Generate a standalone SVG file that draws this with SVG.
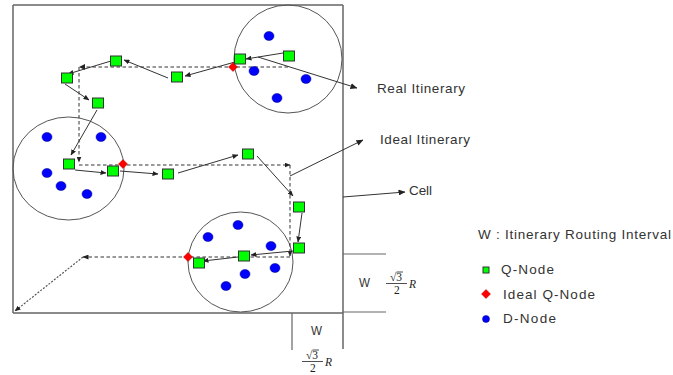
<svg xmlns="http://www.w3.org/2000/svg" width="673" height="375" viewBox="0 0 673 375">
<defs>
<marker id="ah" markerUnits="userSpaceOnUse" markerWidth="7" markerHeight="6" refX="6.5" refY="3" orient="auto">
<path d="M0,0 L7,3 L0,6 z" fill="#222"/>
</marker>
<marker id="ahs" markerUnits="userSpaceOnUse" markerWidth="6" markerHeight="5" refX="5.5" refY="2.5" orient="auto">
<path d="M0,0 L6,2.5 L0,5 z" fill="#222"/>
</marker>
</defs>
<style>
.frame{stroke:#666;stroke-width:1.5;fill:none}
.cell{stroke:#555;stroke-width:1;fill:none}
.q{fill:#00ff00;stroke:#333;stroke-width:1}
.iq{fill:#ff0000;stroke:#aa0000;stroke-width:0.5}
.d{fill:#0000ff;stroke:#000080;stroke-width:0.5}
.real{stroke:#333;stroke-width:1;fill:none;marker-end:url(#ahs)}
.ideal{stroke:#333;stroke-width:1;fill:none;stroke-dasharray:3.5,2.5}
.dot{stroke:#555;stroke-width:1.2;fill:none;stroke-dasharray:2,1.5}
.call{stroke:#333;stroke-width:1;fill:none;marker-end:url(#ah)}
.t{font-family:"Liberation Sans",Arial,sans-serif;font-size:13.5px;fill:#333}
.m{font-family:"Liberation Serif","Times New Roman",serif;font-size:11.5px;fill:#222}
.bar{stroke:#222;stroke-width:0.8}
</style>
<rect width="673" height="375" fill="#fff"/>

<g id="frame">
<path class="frame" d="M13,5 L343,5 M13,5 L13,313 M13,313 L343,313 M343,5 L343,349"/>
<path class="frame" d="M343,254 L386,254 M343,312 L386,312 M292,313 L292,350" style="stroke-width:1.2"/>
</g>

<g id="cells">
<circle class="cell" cx="288" cy="59" r="54"/>
<ellipse class="cell" cx="68.5" cy="168.5" rx="55.5" ry="51.5"/>
<ellipse class="cell" cx="240.5" cy="262" rx="52.5" ry="50"/>
</g>

<g id="connectors">
<g id="ideal-itinerary">
<path class="ideal" d="M288,67 L81,67"/>
<path d="M79,67 L85,64 L85,70 z" fill="#222"/>
<path class="ideal" d="M79,67 L79,162" marker-end="url(#ahs)"/>
<path class="ideal" d="M79,165 L290,165" marker-end="url(#ahs)"/>
<path class="ideal" d="M290,165 L290,256" marker-end="url(#ahs)"/>
<path class="ideal" d="M290,257 L83,257" marker-end="url(#ahs)"/>
<path class="dot" d="M83,257 L15,311" marker-end="url(#ahs)"/>
</g>
<g id="real-itinerary">
<path class="real" d="M283,53 L246,59"/>
<path class="real" d="M235,62 L185,76"/>
<path class="real" d="M168,78 L124,60"/>
<path class="real" d="M111,61 L68,74"/>
<path class="real" d="M65,84 L89,100"/>
<path class="real" d="M97,110 L71,155"/>
<path class="real" d="M75,170 L106,173"/>
<path class="real" d="M120,171 L158,174"/>
<path class="real" d="M178,173 L238,155"/>
<path class="real" d="M257,156 L293,196"/>
<path class="real" d="M302,213 L298,242"/>
<path class="real" d="M293,251 L251,255"/>
<path class="real" d="M238,257 L203,261"/>
</g>
<g id="callouts">
<path class="call" d="M258,57 L357,88"/>
<path class="call" d="M290,176 L363,140"/>
<path class="call" d="M343,197 L405,192"/>
</g>
</g>

<g id="d-nodes">
<ellipse class="d" cx="269" cy="36" rx="5" ry="4.5"/>
<ellipse class="d" cx="254" cy="71" rx="5" ry="4.5"/>
<ellipse class="d" cx="306" cy="79" rx="5" ry="4.5"/>
<ellipse class="d" cx="277" cy="98" rx="5" ry="4.5"/>
<ellipse class="d" cx="47" cy="137" rx="5" ry="4.5"/>
<ellipse class="d" cx="101" cy="137" rx="5" ry="4.5"/>
<ellipse class="d" cx="47" cy="173" rx="5" ry="4.5"/>
<ellipse class="d" cx="61" cy="186" rx="5" ry="4.5"/>
<ellipse class="d" cx="87" cy="194" rx="5" ry="4.5"/>
<ellipse class="d" cx="238" cy="225" rx="5" ry="4.5"/>
<ellipse class="d" cx="208" cy="237" rx="5" ry="4.5"/>
<ellipse class="d" cx="271" cy="246" rx="5" ry="4.5"/>
<ellipse class="d" cx="275" cy="268" rx="5" ry="4.5"/>
<ellipse class="d" cx="245" cy="274" rx="5" ry="4.5"/>
<ellipse class="d" cx="226" cy="286" rx="5" ry="4.5"/>
</g>

<g id="ideal-q-nodes">
<polygon class="iq" points="233,62.5 237.5,67 233,71.5 228.5,67"/>
<polygon class="iq" points="123,159.5 127.5,164 123,168.5 118.5,164"/>
<polygon class="iq" points="188,252.5 192.5,257 188,261.5 183.5,257"/>
</g>

<g id="q-nodes">
<rect id="q1" class="q" x="283.5" y="51" width="11" height="10"/>
<rect id="q2" class="q" x="234.5" y="54" width="11" height="10"/>
<rect id="q3" class="q" x="171.5" y="72" width="11" height="10"/>
<rect id="q4" class="q" x="110.5" y="56" width="11" height="10"/>
<rect id="q5" class="q" x="61.5" y="73" width="11" height="10"/>
<rect id="q6" class="q" x="92.5" y="98" width="11" height="10"/>
<rect id="q7" class="q" x="63.5" y="159" width="11" height="10"/>
<rect id="q8" class="q" x="107.5" y="166" width="11" height="10"/>
<rect id="q9" class="q" x="162.5" y="169" width="11" height="10"/>
<rect id="q10" class="q" x="242.5" y="149" width="11" height="10"/>
<rect id="q11" class="q" x="293.5" y="202" width="11" height="10"/>
<rect id="q12" class="q" x="293.5" y="243" width="11" height="10"/>
<rect id="q13" class="q" x="238.5" y="251" width="11" height="10"/>
<rect id="q14" class="q" x="193.5" y="258" width="11" height="10"/>
</g>

<g id="labels">
<text class="t" x="377" y="93" textLength="88" lengthAdjust="spacing">Real Itinerary</text>
<text class="t" x="380" y="144" textLength="90" lengthAdjust="spacing">Ideal Itinerary</text>
<text class="t" x="409" y="195" textLength="23" lengthAdjust="spacing">Cell</text>
</g>

<g id="w-labels">
<text class="t" x="359" y="287" textLength="11" lengthAdjust="spacingAndGlyphs">W</text>
<text class="m" x="390" y="281">√3</text>
<line class="bar" x1="396.5" y1="272" x2="403" y2="272"/>
<line class="bar" x1="386" y1="283.5" x2="407" y2="283.5"/>
<text class="m" x="394" y="294">2</text>
<text class="m" x="409" y="288" font-style="italic">R</text>
<text class="t" x="311" y="335" textLength="11" lengthAdjust="spacingAndGlyphs">W</text>
<text class="m" x="306" y="359">√3</text>
<line class="bar" x1="312.5" y1="350" x2="319" y2="350"/>
<line class="bar" x1="302" y1="361.5" x2="323" y2="361.5"/>
<text class="m" x="310" y="372">2</text>
<text class="m" x="325" y="366" font-style="italic">R</text>
</g>

<g id="legend">
<text class="t" x="478" y="239" textLength="193" lengthAdjust="spacing">W : Itinerary Routing Interval</text>
<rect class="q" x="483" y="267" width="6" height="6"/>
<text class="t" x="501" y="274" textLength="53" lengthAdjust="spacing">Q-Node</text>
<polygon class="iq" points="486,289.5 490.5,294 486,298.5 481.5,294"/>
<text class="t" x="503" y="299" textLength="92" lengthAdjust="spacing">Ideal Q-Node</text>
<circle class="d" cx="486" cy="319" r="3.5"/>
<text class="t" x="503" y="323" textLength="53" lengthAdjust="spacing">D-Node</text>
</g>
</svg>
